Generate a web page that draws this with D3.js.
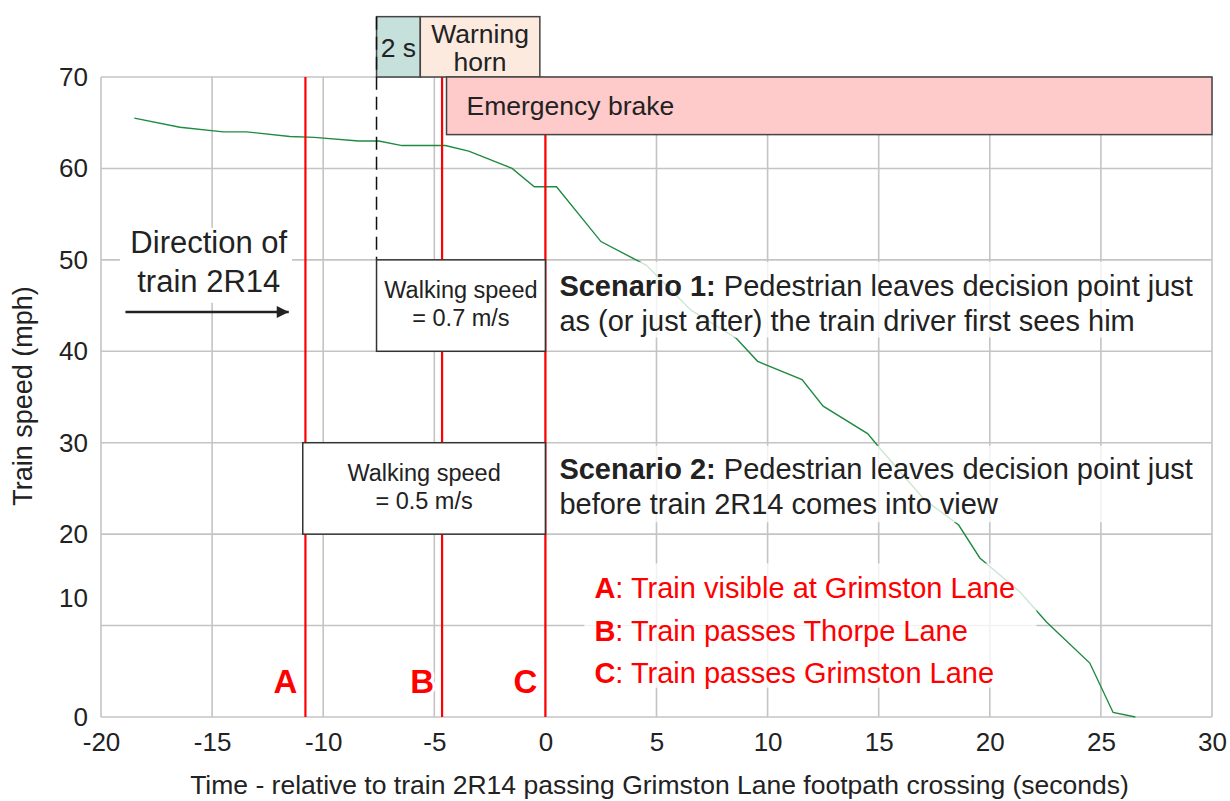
<!DOCTYPE html>
<html>
<head>
<meta charset="utf-8">
<script src="https://cdn.jsdelivr.net/npm/d3@7"></script>
<style>
body { margin:0; background:#fff; }
svg text { font-family: "Liberation Sans", Arial, sans-serif; }
</style>
</head>
<body>
<svg></svg>
<script>

// speed trace of train 2R14 (seconds relative to passing Grimston Lane, mph)
var timeSec  = [-18.5, -16.45, -14.5, -13.45, -11.5, -10.4, -8.4, -7.5, -6.45, -4.5, -3.45, -1.5, -0.5, 0.5, 2.5, 4.55, 6.55, 8.6, 9.55, 11.55, 12.5, 14.5, 15.05, 17.05, 18.6, 19.55, 21.35, 22.55, 24.5, 25.55, 26.55];
var speedMph = [65.5, 64.5, 64.0, 64.0, 63.5, 63.4, 63.0, 63.0, 62.5, 62.5, 61.9, 60.0, 58.0, 58.0, 52.0, 49.4, 44.5, 41.4, 38.9, 36.9, 34.0, 31.0, 29.4, 23.8, 21.0, 17.4, 13.7, 10.4, 5.9, 0.5, 0];

var xTicks = [-20, -15, -10, -5, 0, 5, 10, 15, 20, 25, 30];
var yTicks = [0, 10, 20, 30, 40, 50, 60, 70];

// event lines A, B, C
var eventNames = ["A", "B", "C"];
var eventTimes = [-10.8, -4.65, 0];
var eventTexts = ["Train visible at Grimston Lane", "Train passes Thorpe Lane", "Train passes Grimston Lane"];

// timed phases drawn as boxes (time from/to, speed from/to)
var phaseNames = [["2 s"], ["Warning", "horn"], ["Emergency brake"]];
var phaseT0 = [-7.6, -5.63, -4.45];
var phaseT1 = [-5.63, -0.25, 30];
var phaseV0 = [70, 70, 63.7];
var phaseV1 = [76.6, 76.6, 70];

// walking speed scenarios
var walkLabels = ["= 0.7 m/s", "= 0.5 m/s"];
var walkT0 = [-7.6, -10.92];
var walkT1 = [0, 0];
var walkV0 = [40, 20];
var walkV1 = [50, 30];
var scenarioBold = ["Scenario 1:", "Scenario 2:"];
var scenarioLine1 = [" Pedestrian leaves decision point just", " Pedestrian leaves decision point just"];
var scenarioLine2 = ["as (or just after) the train driver first sees him", "before train 2R14 comes into view"];

var screen = {width:1230, height:801};
var margins = {top:77, right:18, bottom:84, left:101};
var phaseFill = ["#c6e0db", "#fdeadf", "#ffcaca"];

var width = screen.width - margins.left - margins.right;
var height = screen.height - margins.top - margins.bottom;

var xScale = d3.scaleLinear().domain([-20, 30]).range([0, width]);
var yScale = d3.scaleLinear().domain([0, 70]).range([height, 0]);

var svg = d3.select("svg")
    .attr("width", screen.width)
    .attr("height", screen.height);

var graph = svg.append("g")
    .attr("id", "graph")
    .attr("transform", "translate(" + margins.left + "," + margins.top + ")");

// grid
graph.append("g").selectAll("line")
    .data(xTicks)
    .enter()
    .append("line")
    .attr("x1", function(d){ return xScale(d); })
    .attr("x2", function(d){ return xScale(d); })
    .attr("y1", 0)
    .attr("y2", height)
    .attr("stroke", "#c4c4c4")
    .attr("stroke-width", 1.6);

graph.append("g").selectAll("line")
    .data(yTicks)
    .enter()
    .append("line")
    .attr("x1", 0)
    .attr("x2", width)
    .attr("y1", function(d){ return yScale(d); })
    .attr("y2", function(d){ return yScale(d); })
    .attr("stroke", "#c4c4c4")
    .attr("stroke-width", 1.6);

// axes (labels only), plain hyphen for negatives
var plain = function(d){ return String(d); };
var xAxis = d3.axisBottom(xScale).tickValues(xTicks).tickFormat(plain).tickSize(0).tickPadding(16);
var yAxis = d3.axisLeft(yScale).tickValues(yTicks).tickFormat(plain).tickSize(0).tickPadding(13);

var gx = graph.append("g")
    .attr("transform", "translate(0," + height + ")")
    .call(xAxis);
var gy = graph.append("g").call(yAxis);

[gx, gy].forEach(function(g){
    g.select(".domain").remove();
    g.selectAll("text")
        .attr("fill", "#222")
        .style("font-size", "26px")
        .style("font-family", "'Liberation Sans', Arial, sans-serif");
});
// the "10" label sits above its grid line in the original
gy.selectAll(".tick").filter(function(d){ return d === 10; })
    .select("text").attr("y", -27);

// speed trace
var lineGenerator = d3.line()
    .x(function(d, i){ return xScale(timeSec[i]); })
    .y(function(d){ return yScale(d); });

graph.append("path")
    .datum(speedMph)
    .attr("d", lineGenerator)
    .attr("fill", "none")
    .attr("stroke", "#1f8a42")
    .attr("stroke-width", 1.4);

// red event lines
graph.append("g").selectAll("line")
    .data(eventTimes)
    .enter()
    .append("line")
    .attr("x1", function(d){ return xScale(d); })
    .attr("x2", function(d){ return xScale(d); })
    .attr("y1", 0)
    .attr("y2", height)
    .attr("stroke", "#ff0000")
    .attr("stroke-width", 2.2);

graph.append("g").selectAll("text")
    .data(eventTimes)
    .enter()
    .append("text")
    .attr("x", function(d){ return xScale(d) - 8; })
    .attr("y", height - 24)
    .attr("text-anchor", "end")
    .attr("fill", "#ff0000")
    .attr("stroke", "#fff")
    .attr("stroke-width", 6)
    .attr("paint-order", "stroke")
    .style("font-size", "33px")
    .style("font-weight", "bold")
    .text(function(d, i){ return eventNames[i]; });

// semi transparent white panes behind the notes
var panes = [
    [xScale(0) + 2, yScale(50) + 2, xScale(29.7), yScale(41.5)],
    [xScale(0) + 2, yScale(30) + 3, xScale(29.7), yScale(21.3)],
    [xScale(1.75), yScale(16.8), xScale(22.1), yScale(3.2)]
];
graph.append("g").selectAll("rect")
    .data(panes)
    .enter()
    .append("rect")
    .attr("x", function(d){ return d[0]; })
    .attr("y", function(d){ return d[1]; })
    .attr("width", function(d){ return d[2] - d[0]; })
    .attr("height", function(d){ return d[3] - d[1]; })
    .attr("fill", "#fff")
    .attr("opacity", 0.78);

// phase boxes
var phases = graph.append("g").selectAll("g")
    .data(phaseNames)
    .enter()
    .append("g");

phases.append("rect")
    .attr("x", function(d, i){ return xScale(phaseT0[i]); })
    .attr("y", function(d, i){ return yScale(phaseV1[i]); })
    .attr("width", function(d, i){ return xScale(phaseT1[i]) - xScale(phaseT0[i]); })
    .attr("height", function(d, i){ return yScale(phaseV0[i]) - yScale(phaseV1[i]); })
    .attr("fill", function(d, i){ return phaseFill[i]; })
    .attr("stroke", "#444")
    .attr("stroke-width", 1.5);

phases.each(function(d, i){
    var g = d3.select(this);
    var x0 = xScale(phaseT0[i]), x1 = xScale(phaseT1[i]);
    var yTop = yScale(phaseV1[i]);
    if (i === 2) {
        g.append("text")
            .attr("x", x0 + 20)
            .attr("y", yTop + 38)
            .attr("fill", "#222")
            .style("font-size", "26.5px")
            .text(d[0]);
    } else {
        var lh = 28;
        var first = d.length === 1 ? 40 : 26;
        g.selectAll("text")
            .data(d)
            .enter()
            .append("text")
            .attr("x", (x0 + x1) / 2)
            .attr("y", function(t, j){ return yTop + first + j * lh; })
            .attr("text-anchor", "middle")
            .attr("fill", "#222")
            .style("font-size", "26.5px")
            .text(function(t){ return t; });
    }
});

// dashed line where the driver first sees the pedestrian
graph.append("line")
    .attr("x1", xScale(walkT0[0]))
    .attr("x2", xScale(walkT0[0]))
    .attr("y1", yScale(76.6))
    .attr("y2", yScale(50))
    .attr("stroke", "#111")
    .attr("stroke-width", 1.5)
    .attr("stroke-dasharray", "13,7");

// walking speed boxes
var walks = graph.append("g").selectAll("g")
    .data(walkLabels)
    .enter()
    .append("g");

walks.append("rect")
    .attr("x", function(d, i){ return xScale(walkT0[i]); })
    .attr("y", function(d, i){ return yScale(walkV1[i]); })
    .attr("width", function(d, i){ return xScale(walkT1[i]) - xScale(walkT0[i]); })
    .attr("height", function(d, i){ return yScale(walkV0[i]) - yScale(walkV1[i]); })
    .attr("fill", "#fff")
    .attr("stroke", "#333")
    .attr("stroke-width", 1.5);

walks.append("text")
    .attr("x", function(d, i){ return (xScale(walkT0[i]) + xScale(walkT1[i])) / 2; })
    .attr("y", function(d, i){ return yScale(walkV1[i]) + 38; })
    .attr("text-anchor", "middle")
    .attr("fill", "#222")
    .style("font-size", "23.5px")
    .text("Walking speed");

walks.append("text")
    .attr("x", function(d, i){ return (xScale(walkT0[i]) + xScale(walkT1[i])) / 2; })
    .attr("y", function(d, i){ return yScale(walkV1[i]) + 66; })
    .attr("text-anchor", "middle")
    .attr("fill", "#222")
    .style("font-size", "23.5px")
    .text(function(d){ return d; });

// scenario notes
var notes = graph.append("g").selectAll("g")
    .data(scenarioBold)
    .enter()
    .append("g");

var l1 = notes.append("text")
    .attr("x", xScale(0) + 14)
    .attr("y", function(d, i){ return yScale(walkV1[i]) + 36; })
    .attr("fill", "#222")
    .style("font-size", "29px");
l1.append("tspan").style("font-weight", "bold").text(function(d){ return d; });
l1.append("tspan").text(function(d, i){ return scenarioLine1[i]; });

notes.append("text")
    .attr("x", xScale(0) + 14)
    .attr("y", function(d, i){ return yScale(walkV1[i]) + 71; })
    .attr("fill", "#222")
    .style("font-size", "29px")
    .text(function(d, i){ return scenarioLine2[i]; });

// legend for A, B, C
var legend = graph.append("g").selectAll("text")
    .data(eventTexts)
    .enter()
    .append("text")
    .attr("x", xScale(0) + 49)
    .attr("y", function(d, i){ return height - 119 + i * 42.5; })
    .attr("fill", "#ff0000")
    .style("font-size", "29px");
legend.append("tspan").style("font-weight", "bold").text(function(d, i){ return eventNames[i]; });
legend.append("tspan").text(function(d){ return ": " + d; });

// direction of travel
var dirX = (xScale(-19) + xScale(-11.3)) / 2;
graph.append("rect")
    .attr("x", xScale(-19.15))
    .attr("y", yScale(53.5))
    .attr("width", xScale(-11.4) - xScale(-19.15))
    .attr("height", yScale(45.3) - yScale(53.5))
    .attr("fill", "#fff");

graph.append("text")
    .attr("x", dirX)
    .attr("y", yScale(50) - 7)
    .attr("text-anchor", "middle")
    .attr("fill", "#222")
    .style("font-size", "31px")
    .text("Direction of");
graph.append("text")
    .attr("x", dirX)
    .attr("y", yScale(50) + 32)
    .attr("text-anchor", "middle")
    .attr("fill", "#222")
    .style("font-size", "31px")
    .text("train 2R14");

svg.append("defs").append("marker")
    .attr("id", "arrow")
    .attr("viewBox", "0 0 10 10")
    .attr("refX", 10).attr("refY", 5)
    .attr("markerWidth", 7).attr("markerHeight", 5)
    .attr("markerUnits", "strokeWidth")
    .attr("orient", "auto")
    .append("path")
    .attr("d", "M0,0L10,5L0,10z")
    .attr("fill", "#222");

graph.append("line")
    .attr("x1", xScale(-18.9))
    .attr("x2", xScale(-11.55))
    .attr("y1", yScale(44.3))
    .attr("y2", yScale(44.3))
    .attr("stroke", "#222")
    .attr("stroke-width", 2.4)
    .attr("marker-end", "url(#arrow)");

// axis titles
svg.append("text")
    .attr("x", margins.left + width / 2 + 3)
    .attr("y", 794)
    .attr("text-anchor", "middle")
    .attr("fill", "#222")
    .style("font-size", "26.5px")
    .text("Time - relative to train 2R14 passing Grimston Lane footpath crossing (seconds)");

svg.append("text")
    .attr("transform", "translate(32," + (margins.top + 319) + ") rotate(-90)")
    .attr("text-anchor", "middle")
    .attr("fill", "#222")
    .style("font-size", "27px")
    .text("Train speed (mph)");

</script>
</body>
</html>
